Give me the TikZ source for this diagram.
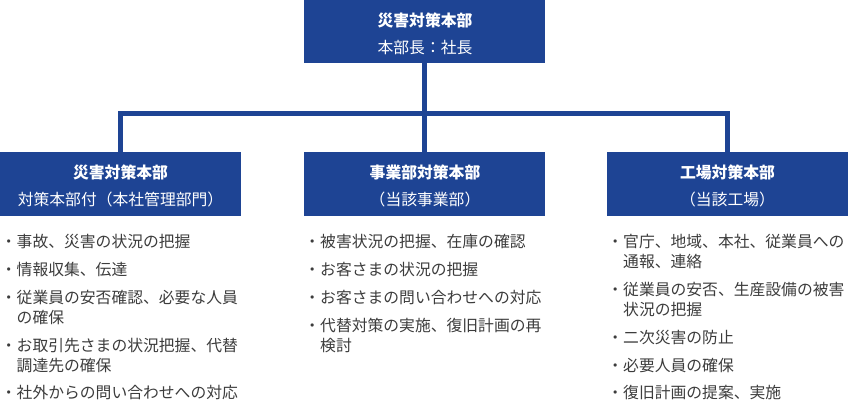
\documentclass[tikz,border=0pt]{standalone}
\usepackage{fontspec}
\setmainfont{Noto Sans CJK JP}
\definecolor{hqblue}{HTML}{1E4494}
\definecolor{txtgray}{HTML}{3C3C3C}
\begin{document}
\begin{tikzpicture}[x=1pt,y=-1pt,
 box/.style={fill=hqblue, draw=none, minimum width=241pt, minimum height=64pt, inner sep=0pt, anchor=north west},
 ttl/.style={text=white, font=\fontsize{15.8}{18}\selectfont\bfseries, inner sep=0pt, anchor=base},
 sub/.style={text=white, font=\fontsize{15.8}{18}\selectfont, inner sep=0pt, anchor=base},
 itm/.style={text=txtgray, font=\fontsize{15.8}{18}\selectfont, inner sep=0pt, anchor=base west},
 link/.style={draw=hqblue, line width=5.5pt}]
\useasboundingbox (0,0) rectangle (848,400);
% boxes
\node[box, minimum height=63pt] (top) at (304,0) {};
\node[box] (left) at (0,152) {};
\node[box] (mid) at (304,152) {};
\node[box] (right) at (607,152) {};
% connectors
\coordinate (bus) at (425,113.5);
\draw[link] (top.south) -- (mid.north);
\draw[link] (left.north) |- (bus) -| (right.north);
% box texts
\node[ttl] (topT) at (425,26.5) {災害対策本部};
\node[sub] (topS) at (425,53) {本部長：社長};
\node[ttl] (leftT) at (120.5,178) {災害対策本部};
\node[sub] (leftS) at (120.5,205.5) {対策本部付（本社管理部門）};
\node[ttl] (midT) at (425,178) {事業部対策本部};
\node[sub] (midS) at (425,205.5) {（当該事業部）};
\node[ttl] (rightT) at (727.5,178) {工場対策本部};
\node[sub] (rightS) at (727.5,205.5) {（当該工場）};
% left items
\node[itm] (l1) at (0.7,247) {・事故、災害の状況の把握};
\node[itm] (l2) at (0.7,275) {・情報収集、伝達};
\node[itm] (l3) at (0.7,303) {・従業員の安否確認、必要な人員};
\node[itm] (l3b) at (16.5,323) {の確保};
\node[itm] (l4) at (0.7,351) {・お取引先さまの状況把握、代替};
\node[itm] (l4b) at (16.5,371) {調達先の確保};
\node[itm] (l5) at (0.7,398) {・社外からの問い合わせへの対応};
% middle items
\node[itm] (m1) at (304.2,247) {・被害状況の把握、在庫の確認};
\node[itm] (m2) at (304.2,275) {・お客さまの状況の把握};
\node[itm] (m3) at (304.2,303) {・お客さまの問い合わせへの対応};
\node[itm] (m4) at (304.2,331) {・代替対策の実施、復旧計画の再};
\node[itm] (m4b) at (320,351) {検討};
% right items
\node[itm] (r1) at (607.2,247) {・官庁、地域、本社、従業員への};
\node[itm] (r1b) at (623,267) {通報、連絡};
\node[itm] (r2) at (607.2,295) {・従業員の安否、生産設備の被害};
\node[itm] (r2b) at (623,315) {状況の把握};
\node[itm] (r3) at (607.2,343) {・二次災害の防止};
\node[itm] (r4) at (607.2,371) {・必要人員の確保};
\node[itm] (r5) at (607.2,398) {・復旧計画の提案、実施};
\end{tikzpicture}
\end{document}
